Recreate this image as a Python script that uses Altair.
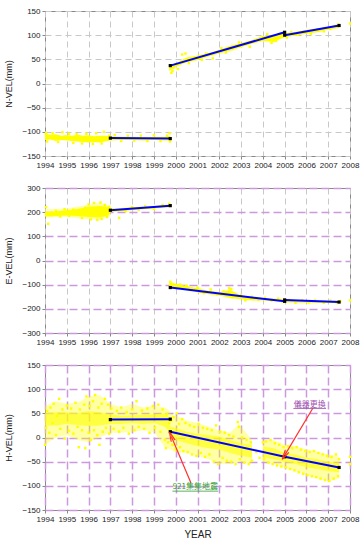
import altair as alt
import pandas as pd

YEARS = [1994, 1995, 1996, 1997, 1998, 1999, 2000, 2001, 2002, 2003, 2004, 2005, 2006, 2007, 2008]
N_TICKS = [-150, -100, -50, 0, 50, 100, 150]
E_TICKS = [-300, -200, -100, 0, 100, 200, 300]
H_TICKS = [-150, -100, -50, 0, 50, 100, 150]

# dense core of the daily solutions: (segment, year, low, high)
N_BAND = [
    ("a", 1994.0, -117, -104), ("a", 1994.25, -116, -106), ("a", 1994.5, -119, -105),
    ("a", 1994.75, -117, -108), ("a", 1995.0, -118, -107), ("a", 1995.25, -119, -108),
    ("a", 1995.5, -120, -106), ("a", 1995.75, -121, -108), ("a", 1996.0, -122, -107),
    ("a", 1996.25, -121, -109), ("a", 1996.5, -122, -108), ("a", 1996.75, -120, -108),
    ("a", 1997.0, -118, -109), ("a", 1997.5, -117, -110), ("a", 1998.0, -117, -110),
    ("a", 1998.5, -118, -111), ("a", 1999.0, -117, -110), ("a", 1999.5, -118, -110),
    ("a", 1999.75, -118, -108),
    ("b", 1999.7, 26, 38), ("b", 2000.0, 34, 42), ("b", 2000.5, 44, 54), ("b", 2001.0, 48, 58),
    ("b", 2001.5, 56, 63), ("b", 2002.0, 62, 70), ("b", 2002.5, 68, 78), ("b", 2003.0, 75, 84),
    ("b", 2003.5, 82, 90), ("b", 2004.0, 88, 99), ("b", 2004.5, 86, 98), ("b", 2005.0, 96, 106),
    ("c", 2005.0, 96, 104), ("c", 2005.5, 99, 107), ("c", 2006.0, 103, 111),
    ("c", 2006.5, 106, 114), ("c", 2007.0, 111, 117), ("c", 2007.5, 115, 123),
]
N_POINTS = [
    (1994.05, -102), (1994.1, -120), (1994.2, -109), (1994.35, -103), (1994.5, -113),
    (1994.6, -121), (1994.8, -101), (1994.9, -110), (1995.1, -104), (1995.3, -123),
    (1995.45, -105), (1995.6, -115), (1995.7, -124), (1995.9, -104), (1996.05, -112),
    (1996.2, -125), (1996.35, -103), (1996.45, -118), (1996.6, -124), (1996.7, -100),
    (1996.85, -115), (1996.95, -108), (1997.2, -107), (1997.5, -119), (1997.8, -108),
    (1998.1, -118), (1998.4, -108), (1998.7, -119), (1999.0, -107), (1999.3, -119),
    (1999.6, -108), (1999.72, -103), (1999.74, -120),
    (1999.8, 22), (1999.85, 26), (1999.9, 33), (2000.1, 30), (2000.3, 60), (2000.45, 62),
    (2000.6, 42), (2000.9, 52), (2001.2, 49), (2001.4, 62), (2001.7, 52), (2002.1, 73),
    (2002.3, 64), (2002.6, 71), (2002.9, 85), (2003.2, 82), (2003.4, 76), (2003.7, 90),
    (2004.0, 91), (2004.2, 102), (2004.4, 84), (2004.6, 88), (2004.8, 103), (2004.95, 98),
    (2005.1, 95), (2005.3, 106), (2005.6, 101), (2005.9, 108), (2006.2, 103), (2006.5, 112),
    (2006.8, 108), (2007.1, 113), (2007.3, 119), (2007.45, 122), (2008.0, 124),
]
N_FIT = [("a", 1997.0, -113), ("a", 1999.75, -114), ("b", 1999.75, 37), ("b", 2005.0, 106),
         ("c", 2005.0, 100), ("c", 2007.5, 120)]

E_BAND = [
    ("a", 1994.0, 182, 200), ("a", 1994.5, 184, 203), ("a", 1995.0, 186, 208),
    ("a", 1995.5, 184, 213), ("a", 1996.0, 180, 222), ("a", 1996.5, 178, 226),
    ("a", 1996.9, 185, 222), ("a", 1997.0, 200, 214), ("a", 1998.0, 208, 220),
    ("a", 1999.0, 215, 226), ("a", 1999.75, 220, 232),
    ("b", 1999.7, -108, -90), ("b", 2000.5, -120, -105), ("b", 2001.0, -132, -115),
    ("b", 2001.5, -140, -125), ("b", 2002.0, -145, -130), ("b", 2002.5, -155, -122),
    ("b", 2003.0, -160, -145), ("b", 2003.5, -165, -150), ("b", 2004.0, -165, -155),
    ("b", 2004.5, -168, -157), ("b", 2005.0, -172, -160),
    ("c", 2005.0, -174, -163), ("c", 2005.5, -174, -164), ("c", 2006.0, -175, -165),
    ("c", 2006.5, -175, -165), ("c", 2007.0, -175, -166), ("c", 2007.55, -176, -165),
]
E_OUTER = [
    ("a", 1994.0, 178, 212), ("a", 1995.0, 180, 215), ("a", 1995.8, 172, 228),
    ("a", 1996.5, 168, 240), ("a", 1997.0, 185, 225),
]
E_POINTS = [
    (1994.05, 221), (1994.15, 152), (1994.3, 188), (1994.5, 205), (1994.7, 182), (1994.9, 212),
    (1995.1, 185), (1995.3, 210), (1995.5, 192), (1995.7, 176), (1995.85, 218), (1996.0, 232),
    (1996.1, 170), (1996.25, 238), (1996.4, 168), (1996.55, 240), (1996.6, 172), (1996.75, 230),
    (1996.85, 180), (1996.95, 222), (1997.1, 212), (1997.4, 176), (1997.7, 204), (1998.0, 221),
    (1998.3, 210), (1998.6, 225), (1999.0, 213), (1999.4, 230), (1999.7, 234),
    (1999.75, -88), (1999.8, -96), (1999.9, -110), (2000.2, -100), (2000.5, -104),
    (2000.7, -122), (2001.0, -112), (2001.3, -135), (2001.6, -120), (2001.9, -140),
    (2002.2, -128), (2002.45, -115), (2002.55, -118), (2002.6, -152), (2002.8, -148),
    (2003.0, -142), (2003.2, -165), (2003.5, -150), (2003.8, -162), (2004.1, -155),
    (2004.4, -166), (2004.7, -158), (2004.9, -170),
    (2005.2, -163), (2005.5, -175), (2005.8, -164), (2006.1, -174), (2006.4, -165),
    (2006.8, -175), (2007.1, -166), (2007.4, -176), (2007.55, -168), (2008.0, -165),
]
E_FIT = [("a", 1997.0, 208), ("a", 1999.75, 227), ("b", 1999.75, -112), ("b", 2005.0, -169),
         ("c", 2005.0, -163), ("c", 2007.5, -172)]

H_BAND = [
    ("a", 1994.0, 25, 50), ("a", 1994.5, 25, 52), ("a", 1995.0, 28, 52), ("a", 1995.5, 26, 50),
    ("a", 1996.0, 24, 55), ("a", 1996.5, 25, 52), ("a", 1997.0, 28, 48), ("a", 1997.5, 28, 45),
    ("a", 1998.0, 30, 46), ("a", 1998.5, 28, 47), ("a", 1999.0, 30, 48), ("a", 1999.5, 22, 50),
    ("a", 1999.75, 10, 40),
    ("b", 1999.75, -5, 22), ("b", 2000.0, -5, 20), ("b", 2000.5, -12, 12), ("b", 2001.0, -18, 8),
    ("b", 2001.5, -22, 5), ("b", 2002.0, -25, 2), ("b", 2002.5, -32, -5), ("b", 2003.0, -38, -12),
    ("b", 2003.5, -42, -15),
    ("c", 2004.0, -42, -18), ("c", 2004.5, -45, -22), ("c", 2005.0, -50, -32),
    ("c", 2005.5, -55, -35), ("c", 2006.0, -62, -42), ("c", 2006.5, -65, -45),
    ("c", 2007.0, -70, -50), ("c", 2007.5, -72, -52),
]
H_OUTER = [
    ("a", 1994.0, -15, 65), ("a", 1994.5, 0, 75), ("a", 1995.0, 5, 70), ("a", 1995.5, -5, 72),
    ("a", 1996.0, -10, 85), ("a", 1996.5, 0, 88), ("a", 1997.0, 10, 70), ("a", 1997.5, 10, 62),
    ("a", 1998.0, 12, 70), ("a", 1998.5, 15, 62), ("a", 1999.0, 12, 65), ("a", 1999.5, -20, 62),
    ("a", 1999.75, -25, 55),
    ("b", 1999.75, -25, 50), ("b", 2000.0, -30, 45), ("b", 2000.5, -32, 35), ("b", 2001.0, -38, 30),
    ("b", 2001.5, -45, 22), ("b", 2002.0, -55, 15), ("b", 2002.5, -55, 10), ("b", 2002.9, -50, 28),
    ("b", 2003.5, -55, -5),
    ("c", 2004.0, -50, -5), ("c", 2004.5, -55, -5), ("c", 2005.0, -62, -15), ("c", 2005.5, -70, -18),
    ("c", 2006.0, -78, -25), ("c", 2006.5, -85, -30), ("c", 2007.0, -90, -35), ("c", 2007.5, -85, -40),
]
H_POINTS = [
    (1994.0, -15), (1994.05, 20), (1994.1, 55), (1994.2, 10), (1994.25, 62), (1994.35, 30),
    (1994.4, 70), (1994.5, 5), (1994.55, 45), (1994.65, 80), (1994.7, 18), (1994.8, 58),
    (1994.9, -2), (1995.0, 66), (1995.1, 14), (1995.2, 60), (1995.3, 8), (1995.4, 72),
    (1995.5, 22), (1995.55, -20), (1995.6, 58), (1995.7, 15), (1995.8, 68), (1995.85, -22),
    (1995.9, 85), (1996.0, 10), (1996.05, 65), (1996.1, -5), (1996.2, 75), (1996.25, 15),
    (1996.3, 88), (1996.4, 5), (1996.45, 62), (1996.5, -15), (1996.6, 70), (1996.65, 12),
    (1996.75, 80), (1996.8, 20), (1996.9, 68), (1996.95, 8),
    (1997.05, 60), (1997.15, 18), (1997.3, 55), (1997.4, 12), (1997.5, 62), (1997.6, 20),
    (1997.75, 52), (1997.85, 8), (1998.0, 58), (1998.1, 15), (1998.2, 75), (1998.3, 22),
    (1998.45, 56), (1998.55, 18), (1998.7, 60), (1998.8, 10), (1998.95, 65), (1999.05, 20),
    (1999.2, 68), (1999.3, 12), (1999.4, 58), (1999.5, -5), (1999.55, -22), (1999.6, 48),
    (1999.65, -10), (1999.7, 30),
    (1999.8, 35), (1999.85, -15), (1999.9, 42), (2000.0, -25), (2000.05, 50), (2000.15, 28),
    (2000.2, -20), (2000.3, 38), (2000.35, -28), (2000.45, 30), (2000.55, -30), (2000.65, 25),
    (2000.75, -35), (2000.85, 22), (2000.95, -38), (2001.05, 28), (2001.15, -32), (2001.25, 20),
    (2001.35, -40), (2001.45, 18), (2001.55, -35), (2001.65, 15), (2001.75, -50), (2001.85, 25),
    (2001.95, -55), (2002.05, 12), (2002.15, -42), (2002.25, 10), (2002.35, -48), (2002.45, 5),
    (2002.55, -50), (2002.65, 2), (2002.75, -55), (2002.85, 32), (2002.9, 22), (2002.95, -45),
    (2003.05, 0), (2003.15, -52), (2003.25, -5), (2003.35, -55), (2003.45, -10), (2003.5, -48),
    (2003.7, -30), (2003.85, -42),
    (2004.0, -10), (2004.05, -45), (2004.15, -8), (2004.25, -52), (2004.35, -5), (2004.45, -55),
    (2004.55, -12), (2004.65, -58), (2004.75, -15), (2004.85, -60), (2004.95, -20), (2005.05, -62),
    (2005.15, -18), (2005.25, -65), (2005.35, -22), (2005.45, -68), (2005.55, -20), (2005.65, -72),
    (2005.75, -25), (2005.85, -75), (2005.95, -28), (2006.05, -78), (2006.15, -30), (2006.25, -80),
    (2006.35, -28), (2006.45, -82), (2006.55, -32), (2006.65, -85), (2006.75, -35), (2006.85, -88),
    (2006.95, -38), (2007.05, -90), (2007.15, -40), (2007.25, -85), (2007.35, -35), (2007.45, -80),
    (2007.5, -45), (2008.0, -40), (2008.0, -55),
]
H_FIT = [("a", 1997.0, 37), ("a", 1999.75, 38), ("b", 1999.75, 12), ("b", 2005.0, -40),
         ("b", 2007.5, -62)]

# annotations on the height panel: (tail year, tail value, tip year, tip value)
ARROWS = [(2000.7, -94, 1999.8, 2), (2006.3, 61, 2005.0, -37)]
ARROW_HEAD_ANGLE = [337, 211]
NOTES = [(2000.9, -103, "921集集地震", "#33A033"), (2006.15, 68, "儀器更換", "#A050B0")]
NOTE_LINES = [(1999.85, 2001.95, -111, "#33A033"), (2005.4, 2006.9, 60, "#A050B0")]

GRAY = "#C8C8C8"
PURPLE = "#CC99DD"
W, H = 305, 145


def panel(band, pts, fit, ytitle, ydom, yticks, xgrid, ygrid, core_opacity=1.0,
          outer=None, xtitle=None, extras=()):
    band_df = pd.DataFrame(band, columns=["seg", "year", "lo", "hi"])
    pts_df = pd.DataFrame(pts, columns=["year", "v"])
    fit_df = pd.DataFrame(fit, columns=["seg", "year", "v"])

    xaxis = alt.Axis(values=YEARS, format="d", labelFontSize=8, labelFont="Liberation Sans",
                     labelColor="#222", labelOverlap=False, labelFlush=False, labelPadding=2,
                     tickSize=3, tickColor="#888", domain=False,
                     grid=True, gridColor=xgrid[0], gridDash=xgrid[1], gridWidth=xgrid[2],
                     title=xtitle if xtitle else None, titleFontSize=10, titleFontWeight="normal",
                     titleFont="Liberation Sans", titleColor="#222", titlePadding=6)
    yaxis = alt.Axis(values=yticks, labelFontSize=8, labelFont="Liberation Sans",
                     labelColor="#222", labelPadding=2, tickSize=3, tickColor="#888",
                     domain=False, grid=True, gridColor=ygrid[0], gridDash=ygrid[1],
                     gridWidth=ygrid[2], title=ytitle, titleFontSize=9,
                     titleFontWeight="normal", titleFont="Liberation Sans", titleColor="#222",
                     titlePadding=8)
    xs = alt.Scale(domain=[1994, 2008], nice=False, zero=False)
    ys = alt.Scale(domain=ydom, nice=False, zero=False)

    layers = []
    if outer is not None:
        outer_df = pd.DataFrame(outer, columns=["seg", "year", "lo", "hi"])
        layers.append(alt.Chart(outer_df).mark_area(color="#FFFF00", opacity=0.35).encode(
            x=alt.X("year:Q", scale=xs, axis=xaxis),
            y=alt.Y("lo:Q", scale=ys, axis=yaxis),
            y2="hi:Q",
            detail="seg:N",
        ))
    layers.append(alt.Chart(band_df).mark_area(color="#FFFF00", opacity=core_opacity).encode(
        x=alt.X("year:Q", scale=xs, axis=xaxis),
        y=alt.Y("lo:Q", scale=ys, axis=yaxis),
        y2="hi:Q",
        detail="seg:N",
    ))
    layers.append(alt.Chart(pts_df).mark_square(color="#FFFF00", size=6, opacity=1).encode(
        x=alt.X("year:Q", scale=xs, axis=xaxis),
        y=alt.Y("v:Q", scale=ys, axis=yaxis),
    ))
    layers.append(alt.Chart(fit_df).mark_line(color="#0000FF", strokeWidth=2).encode(
        x=alt.X("year:Q", scale=xs, axis=xaxis),
        y=alt.Y("v:Q", scale=ys, axis=yaxis),
        detail="seg:N",
    ))
    layers.append(alt.Chart(fit_df).mark_square(color="#000000", size=10, opacity=1).encode(
        x=alt.X("year:Q", scale=xs, axis=xaxis),
        y=alt.Y("v:Q", scale=ys, axis=yaxis),
    ))
    layers += [e(xs, ys, xaxis, yaxis) for e in extras]
    return alt.layer(*layers).properties(width=W, height=H)


def annotations(xs, ys, xaxis, yaxis):
    arrows_df = pd.DataFrame(ARROWS, columns=["x0", "y0", "x1", "y1"])
    arrows_df["ang"] = ARROW_HEAD_ANGLE
    notes_df = pd.DataFrame(NOTES, columns=["x", "y", "t", "c"])
    ul_df = pd.DataFrame(NOTE_LINES, columns=["x0", "x1", "y", "c"])
    shaft = alt.Chart(arrows_df).mark_rule(color="#FF3030", strokeWidth=1.2).encode(
        x=alt.X("x0:Q", scale=xs, axis=xaxis), y=alt.Y("y0:Q", scale=ys, axis=yaxis),
        x2="x1:Q", y2="y1:Q")
    head = alt.Chart(arrows_df).mark_point(
        shape="M -0.45 1 L 0 -1 L 0.45 1", filled=False, color="#FF3030", size=90,
        strokeWidth=1.2, opacity=1).encode(
        x=alt.X("x1:Q", scale=xs, axis=xaxis), y=alt.Y("y1:Q", scale=ys, axis=yaxis),
        angle=alt.Angle("ang:Q", scale=None))
    txt = alt.Chart(notes_df).mark_text(fontSize=8, font="Noto Sans CJK TC").encode(
        x=alt.X("x:Q", scale=xs, axis=xaxis), y=alt.Y("y:Q", scale=ys, axis=yaxis),
        text="t:N", color=alt.Color("c:N", scale=None))
    ul = alt.Chart(ul_df).mark_rule(strokeWidth=0.8).encode(
        x=alt.X("x0:Q", scale=xs, axis=xaxis), y=alt.Y("y:Q", scale=ys, axis=yaxis),
        x2="x1:Q", color=alt.Color("c:N", scale=None))
    return alt.layer(shaft, head, ul, txt)


p1 = panel(N_BAND, N_POINTS, N_FIT, "N-VEL(mm)", [-150, 150], N_TICKS,
           (GRAY, [6, 4], 1), (GRAY, [6, 4], 1))
p2 = panel(E_BAND, E_POINTS, E_FIT, "E-VEL(mm)", [-300, 300], E_TICKS,
           (GRAY, [6, 4], 1), (PURPLE, [8, 4], 1.5), outer=E_OUTER)
p3 = panel(H_BAND, H_POINTS, H_FIT, "H-VEL(mm)", [-150, 150], H_TICKS,
           (PURPLE, [8, 4], 1.5), (PURPLE, [8, 4], 1.5), core_opacity=0.6,
           outer=H_OUTER, xtitle="YEAR", extras=(annotations,))

chart = alt.vconcat(p1, p2, p3, spacing=13).properties(
    padding={"left": 4, "top": 6, "right": 0, "bottom": 0},
    background="white",
).configure_view(stroke="#888888", strokeWidth=1)

chart.save("out.html", embed_options={"renderer": "svg", "actions": False})
